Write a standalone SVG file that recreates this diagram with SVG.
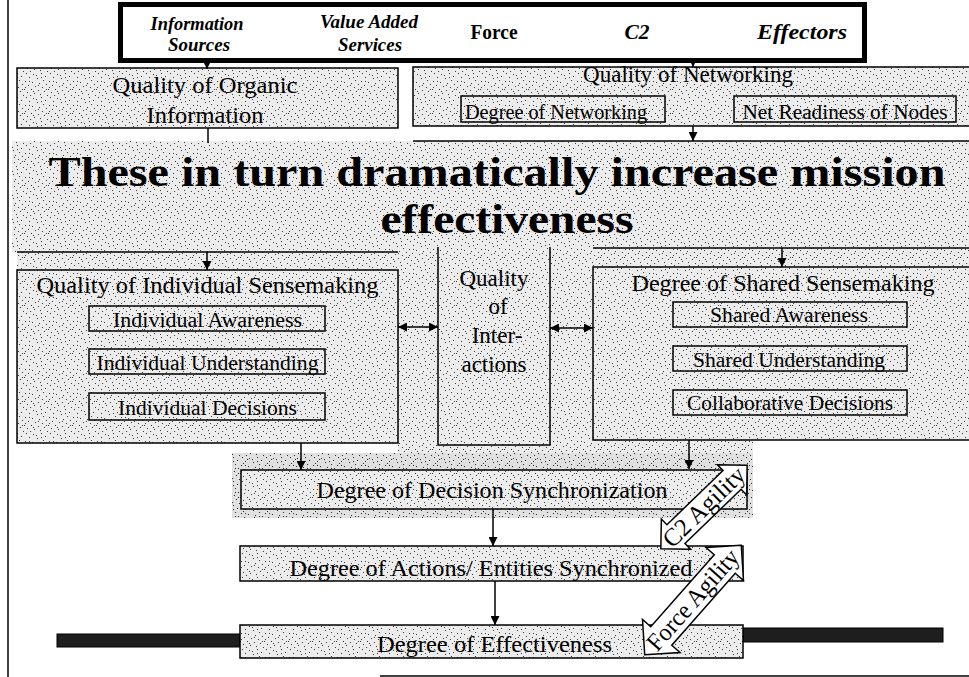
<svg xmlns="http://www.w3.org/2000/svg" width="969" height="677" viewBox="0 0 969 677">
<defs>
<pattern id="stip" width="24" height="24" patternUnits="userSpaceOnUse">
<rect width="24" height="24" fill="#ececec"/>
<path fill="#3a3a3a" d="M2,1h1v1h-1zM9,2h1v1h-1zM17,1h1v1h-1zM21,4h1v1h-1zM5,5h1v1h-1zM13,6h1v1h-1zM19,8h1v1h-1zM1,9h1v1h-1zM8,10h1v1h-1zM15,11h1v1h-1zM22,12h1v1h-1zM4,13h1v1h-1zM11,14h1v1h-1zM18,15h1v1h-1zM0,17h1v1h-1zM7,17h1v1h-1zM14,18h1v1h-1zM20,19h1v1h-1zM3,20h1v1h-1zM10,21h1v1h-1zM16,22h1v1h-1zM23,23h1v1h-1zM6,23h1v1h-1zM12,3h1v1h-1zM1,15h1v1h-1zM17,5h1v1h-1zM9,19h1v1h-1zM22,17h1v1h-1zM5,9h1v1h-1zM14,13h1v1h-1z"/>
</pattern>
<pattern id="stipdark" width="24" height="24" patternUnits="userSpaceOnUse">
<rect width="24" height="24" fill="#e0e0e0"/>
<path fill="#2a2a2a" d="M2,1h1v1h-1zM9,2h1v1h-1zM17,1h1v1h-1zM21,4h1v1h-1zM5,5h1v1h-1zM13,6h1v1h-1zM19,8h1v1h-1zM1,9h1v1h-1zM8,10h1v1h-1zM15,11h1v1h-1zM22,12h1v1h-1zM4,13h1v1h-1zM11,14h1v1h-1zM18,15h1v1h-1zM0,17h1v1h-1zM7,17h1v1h-1zM14,18h1v1h-1zM20,19h1v1h-1zM3,20h1v1h-1zM10,21h1v1h-1zM16,22h1v1h-1zM23,23h1v1h-1zM6,23h1v1h-1zM12,3h1v1h-1zM1,15h1v1h-1zM17,5h1v1h-1zM9,19h1v1h-1zM22,17h1v1h-1zM5,9h1v1h-1zM14,13h1v1h-1zM7,3h1v1h-1zM19,12h1v1h-1zM3,7h1v1h-1zM12,20h1v1h-1z"/>
</pattern>
<marker id="ah" viewBox="0 0 10 10" refX="10" refY="5" markerWidth="9" markerHeight="9" markerUnits="userSpaceOnUse" orient="auto-start-reverse">
<path d="M0,0 L10,5 L0,10 z" fill="#000"/>
</marker>
<style>
.box{fill:url(#stip);stroke:#000;stroke-width:1.5}
.tex{fill:url(#stip)}
.t{font-family:"Liberation Serif","Times New Roman",serif;fill:#000;text-anchor:middle}
.hd{font-family:"Liberation Serif","Times New Roman",serif;font-weight:bold;font-size:18px;fill:#000;text-anchor:middle}
.big{font-size:20px}
.it{font-style:italic}
.f23{font-size:23px}
.f20{font-size:20px}
.ban{font-weight:bold;font-size:42px}
.ag{font-size:25px}
.conn{stroke:#000;stroke-width:1.5;fill:none}
.arw{marker-end:url(#ah)}
.dbl{marker-start:url(#ah);marker-end:url(#ah)}
.agil{fill:#fff;stroke:#000;stroke-width:1.5}
.bar{fill:#1e1e1e;stroke:#000;stroke-width:1}
</style>
</defs>

<rect width="969" height="677" fill="#fff"/>

<g id="textures">
<rect class="tex" x="12" y="141" width="957" height="111"/>
<rect class="tex" x="17" y="252" width="381" height="18"/>
<rect class="tex" x="398" y="250" width="195" height="220"/>
<rect class="tex" x="593" y="248" width="376" height="20"/>
<rect class="tex" x="593" y="440" width="160" height="30"/>
<rect x="232" y="453" width="521" height="65" fill="url(#stipdark)"/>
</g>

<g id="frame">
<line x1="8" y1="0" x2="8" y2="677" stroke="#000" stroke-width="1.5"/>
<line x1="380" y1="676" x2="969" y2="676" stroke="#000" stroke-width="1.5"/>
<line x1="413" y1="141" x2="969" y2="141" stroke="#000" stroke-width="1.5"/>
</g>

<g id="top-box">
<rect x="120.5" y="4.5" width="744" height="56" fill="#fff" stroke="#000" stroke-width="5"/>
<text class="hd it" x="197" y="30" textLength="93" lengthAdjust="spacingAndGlyphs">Information</text>
<text class="hd it" x="199" y="51" textLength="62" lengthAdjust="spacingAndGlyphs">Sources</text>
<text class="hd it" x="369" y="28" textLength="98" lengthAdjust="spacingAndGlyphs">Value Added</text>
<text class="hd it" x="370" y="51" textLength="64" lengthAdjust="spacingAndGlyphs">Services</text>
<text class="hd big" x="494" y="39" textLength="47" lengthAdjust="spacingAndGlyphs">Force</text>
<text class="hd big it" x="637" y="39" textLength="25" lengthAdjust="spacingAndGlyphs">C2</text>
<text class="hd big it" x="802" y="39" textLength="90" lengthAdjust="spacingAndGlyphs">Effectors</text>
</g>

<g id="organic">
<rect class="box" x="17" y="68" width="381" height="60"/>
<text class="t f23" x="205" y="93" textLength="185" lengthAdjust="spacingAndGlyphs">Quality of Organic</text>
<text class="t f23" x="205" y="123" textLength="117" lengthAdjust="spacingAndGlyphs">Information</text>
</g>

<g id="networking">
<rect class="box" x="413" y="67" width="560" height="59"/>
<text class="t f23" x="688" y="82" textLength="210" lengthAdjust="spacingAndGlyphs">Quality of Networking</text>
<rect class="box" x="461" y="96" width="204" height="26"/>
<text class="t f20" x="556" y="119" textLength="182" lengthAdjust="spacingAndGlyphs">Degree of Networking</text>
<rect class="box" x="734" y="96" width="222" height="26"/>
<text class="t f20" x="845" y="119" textLength="205" lengthAdjust="spacingAndGlyphs">Net Readiness of Nodes</text>
</g>

<g id="banner">
<text class="t ban" x="497" y="186" textLength="897" lengthAdjust="spacingAndGlyphs">These in turn dramatically increase mission</text>
<text class="t ban" x="507" y="233" textLength="253" lengthAdjust="spacingAndGlyphs">effectiveness</text>
</g>

<g id="individual">
<rect class="box" x="17" y="270" width="381" height="173"/>
<text class="t f23" x="207.5" y="293" textLength="342" lengthAdjust="spacingAndGlyphs">Quality of Individual Sensemaking</text>
<rect class="box" x="89" y="306" width="236" height="25"/>
<text class="t f20" x="207.5" y="327" textLength="189" lengthAdjust="spacingAndGlyphs">Individual Awareness</text>
<rect class="box" x="89" y="349" width="236" height="25"/>
<text class="t f20" x="207.5" y="370" textLength="222" lengthAdjust="spacingAndGlyphs">Individual Understanding</text>
<rect class="box" x="89" y="393" width="236" height="27"/>
<text class="t f20" x="207.5" y="415" textLength="179" lengthAdjust="spacingAndGlyphs">Individual Decisions</text>
</g>

<g id="interactions">
<path d="M438,247 V445 H550 V247" fill="none" stroke="#000" stroke-width="1.5"/>
<text class="t f23" x="494" y="286">Quality</text>
<text class="t f23" x="498" y="314">of</text>
<text class="t f23" x="497" y="343">Inter-</text>
<text class="t f23" x="494" y="372">actions</text>
</g>

<g id="shared">
<rect class="box" x="593" y="267" width="380" height="173"/>
<text class="t f23" x="783" y="291" textLength="303" lengthAdjust="spacingAndGlyphs">Degree of Shared Sensemaking</text>
<rect class="box" x="673" y="302" width="234" height="25"/>
<text class="t f20" x="789" y="322" textLength="158" lengthAdjust="spacingAndGlyphs">Shared Awareness</text>
<rect class="box" x="673" y="346" width="234" height="25"/>
<text class="t f20" x="789" y="367" textLength="192" lengthAdjust="spacingAndGlyphs">Shared Understanding</text>
<rect class="box" x="673" y="390" width="234" height="25"/>
<text class="t f20" x="790" y="410" textLength="206" lengthAdjust="spacingAndGlyphs">Collaborative Decisions</text>
</g>

<g id="decision">
<rect class="box" x="241" y="470" width="506" height="39"/>
<text class="t f23" x="492" y="498" textLength="351" lengthAdjust="spacingAndGlyphs">Degree of Decision Synchronization</text>
</g>

<g id="actions">
<rect class="box" x="240" y="546" width="503" height="35"/>
<text class="t f23" x="491" y="576" textLength="403" lengthAdjust="spacingAndGlyphs">Degree of Actions/ Entities Synchronized</text>
</g>

<g id="effectiveness">
<rect class="bar" x="57" y="634" width="183" height="13"/>
<rect class="bar" x="743" y="628" width="200" height="14"/>
<rect class="box" x="240" y="625" width="503" height="33"/>
<text class="t f23" x="494.5" y="652" textLength="235" lengthAdjust="spacingAndGlyphs">Degree of Effectiveness</text>
</g>

<g id="connectors">
<line class="conn arw" x1="207" y1="62" x2="207" y2="69"/>
<line class="conn arw" x1="693" y1="62" x2="693" y2="67"/>
<line class="conn" x1="208" y1="128" x2="208" y2="143"/>
<line class="conn arw" x1="693" y1="126" x2="693" y2="141"/>
<line class="conn" x1="17" y1="252" x2="398" y2="252"/>
<line class="conn arw" x1="207" y1="252" x2="207" y2="270"/>
<line class="conn" x1="593" y1="248" x2="969" y2="248"/>
<line class="conn arw" x1="782" y1="248" x2="782" y2="267"/>
<line class="conn dbl" x1="398" y1="327" x2="438" y2="327"/>
<line class="conn dbl" x1="550" y1="328" x2="593" y2="328"/>
<line class="conn arw" x1="301" y1="443" x2="301" y2="470"/>
<line class="conn arw" x1="689" y1="440" x2="689" y2="469"/>
<line class="conn arw" x1="493" y1="509" x2="493" y2="546"/>
<line class="conn arw" x1="495" y1="581" x2="495" y2="625"/>
</g>

<g id="c2-agility" transform="translate(704,507) rotate(-44)">
<path class="agil" d="M60,0 L39,-21 L39,-13 L-39,-13 L-39,-21 L-60,0 L-39,21 L-39,13 L39,13 L39,21 Z"/>
<text class="t ag" x="0" y="8" textLength="104" lengthAdjust="spacingAndGlyphs">C2 Agility</text>
</g>

<g id="force-agility" transform="translate(693,600) rotate(-48.6)">
<path class="agil" d="M73,0 L48,-25 L48,-14 L-48,-14 L-48,-25 L-73,0 L-48,25 L-48,14 L48,14 L48,25 Z"/>
<text class="t ag" x="0" y="8" textLength="126" lengthAdjust="spacingAndGlyphs">Force Agility</text>
</g>
</svg>
